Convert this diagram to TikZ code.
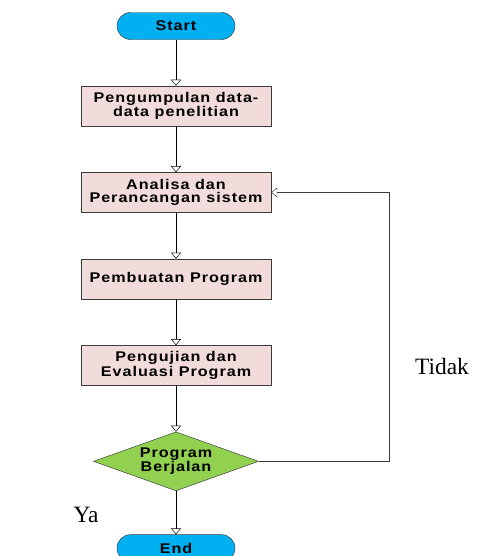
\documentclass[tikz,border=0pt]{standalone}
\usepackage{fontspec}
\setmainfont{Liberation Serif}
\newfontfamily\boxfont[FakeStretch=1.15,LetterSpace=7]{Liberation Sans}
\usetikzlibrary{
  arrows.meta,
  shapes.geometric,
  positioning
}
\definecolor{terminal}{HTML}{00B0F0}
\definecolor{proses}{HTML}{F2DCDB}
\definecolor{keputusan}{HTML}{92D050}
\definecolor{garis}{HTML}{3A3A3A}
\tikzset{
  ->,
  >={Triangle[open,length=0.18cm,width=0.3cm]},
  node distance = 1.38cm,
  line width = 0.6pt,
  every node/.style = {font=\boxfont\bfseries\fontsize{12}{10.5}\selectfont, align=center},
  terminal/.style = {rectangle, rounded corners=0.405cm, draw=garis, fill=terminal,
    minimum width=3.54cm, minimum height=0.81cm, inner sep=0pt},
  proses/.style = {rectangle, draw=garis, fill=proses,
    minimum width=5.7cm, minimum height=1.2cm, inner sep=0pt},
  keputusan/.style = {diamond, draw=garis, fill=keputusan, shape aspect=2.8,
    minimum width=4.95cm, minimum height=1.77cm, inner sep=0pt},
  label/.style = {font=\rmfamily\mdseries\fontsize{20}{24}\selectfont},
}
\begin{document}
\begin{tikzpicture}
  \useasboundingbox (0,0) rectangle (14.31,-16.68);
  \node[terminal] (start) at (5.28,-0.78) {Start};
  \node[proses, below=of start] (kumpul) {Pengumpulan data-\\data penelitian};
  \node[proses, below=of kumpul] (analisa) {Analisa dan\\Perancangan sistem};
  \node[proses, below=of analisa] (buat) {Pembuatan Program};
  \node[proses, below=of buat] (uji) {Pengujian dan\\Evaluasi Program};
  \node[keputusan, below=of uji] (jalan) {Program\\Berjalan};
  \node[terminal, below=1.3cm of jalan] (selesai) {End};
  \coordinate (balik) at (11.67,0);
  \node[label] (tidak) at (13.26,-10.98) {Tidak};
  \node[label] (ya) at (2.58,-15.45) {Ya};
  \draw[black]
      (start) edge (kumpul)
      (kumpul) edge (analisa)
      (analisa) edge (buat)
      (buat) edge (uji)
      (uji) edge (jalan)
      (jalan) edge (selesai);
  \draw[garis] (jalan.east) -- (jalan.east -| balik) |- (analisa.east);
\end{tikzpicture}
\end{document}
